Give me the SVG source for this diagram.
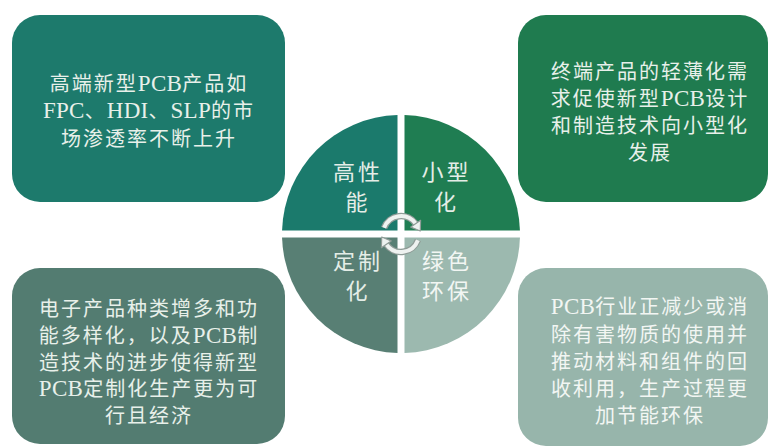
<svg xmlns="http://www.w3.org/2000/svg" width="771" height="448" viewBox="0 0 771 448">
<style>
.bt{font-family:"Liberation Serif","Noto Sans CJK SC",serif;font-size:20px;letter-spacing:2px;text-anchor:middle;fill:#e8f0ea}
.l{font-size:23px;letter-spacing:0.3px}
.qt{font-family:"Liberation Serif","Noto Sans CJK SC",serif;font-size:22px;letter-spacing:3px;text-anchor:middle;fill:#e4ede7}
.arc-o{fill:none;stroke:#8f9c97;stroke-width:6.5}
.arc-i{fill:none;stroke:#eef2f0;stroke-width:4}
.ah{fill:#eef2f0;stroke:#8f9c97;stroke-width:1.2;stroke-linejoin:round}
</style>
<rect width="771" height="448" fill="#ffffff"/>

<g id="box-tl">
<rect x="12" y="15" width="273" height="187" rx="28" fill="#1d7a6c"/>
<text class="bt"><tspan x="149" y="90.5">高端新型<tspan class="l">PCB</tspan>产品如</tspan><tspan x="149" y="118"><tspan class="l">FPC</tspan>、<tspan class="l">HDI</tspan>、<tspan class="l">SLP</tspan>的市</tspan><tspan x="149" y="145.5">场渗透率不断上升</tspan></text>
</g>

<g id="box-tr">
<rect x="518" y="15" width="250" height="187" rx="28" fill="#1f7b4f"/>
<text class="bt"><tspan x="650" y="79">终端产品的轻薄化需</tspan><tspan x="650" y="106">求促使新型<tspan class="l">PCB</tspan>设计</tspan><tspan x="650" y="133">和制造技术向小型化</tspan><tspan x="650" y="160">发展</tspan></text>
</g>

<g id="box-bl">
<rect x="12" y="268" width="273" height="176" rx="28" fill="#537c71"/>
<text class="bt"><tspan x="149" y="315.5">电子产品种类增多和功</tspan><tspan x="149" y="342.5">能多样化，以及<tspan class="l">PCB</tspan>制</tspan><tspan x="149" y="369.5">造技术的进步使得新型</tspan><tspan x="149" y="396"><tspan class="l">PCB</tspan>定制化生产更为可</tspan><tspan x="149" y="423">行且经济</tspan></text>
</g>

<g id="box-br">
<rect x="518" y="268" width="250" height="178" rx="28" fill="#97b5ab"/>
<text class="bt" style="fill:#f2f6f3"><tspan x="650" y="314"><tspan class="l">PCB</tspan>行业正减少或消</tspan><tspan x="650" y="342">除有害物质的使用并</tspan><tspan x="650" y="369">推动材料和组件的回</tspan><tspan x="650" y="396">收利用，生产过程更</tspan><tspan x="650" y="423">加节能环保</tspan></text>
</g>

<g id="q-tl">
<path d="M397.5,230.5 H282.05 A119,119 0 0 1 397.5,115.05 Z" fill="#1b7a6c"/>
<text class="qt"><tspan x="358" y="180">高性</tspan><tspan x="358" y="210">能</tspan></text>
</g>
<g id="q-tr">
<path d="M404.5,230.5 V115.05 A119,119 0 0 1 519.95,230.5 Z" fill="#1f7d52"/>
<text class="qt"><tspan x="446.5" y="180">小型</tspan><tspan x="446.5" y="210">化</tspan></text>
</g>
<g id="q-bl">
<path d="M397.5,237.5 V352.95 A119,119 0 0 1 282.05,237.5 Z" fill="#587f74"/>
<text class="qt"><tspan x="358" y="269">定制</tspan><tspan x="358" y="299">化</tspan></text>
</g>
<g id="q-br">
<path d="M404.5,237.5 H519.95 A119,119 0 0 1 404.5,352.95 Z" fill="#9cb9af"/>
<text class="qt" style="fill:#f2f6f3"><tspan x="447" y="269">绿色</tspan><tspan x="447" y="299">环保</tspan></text>
</g>

<g id="connectors">
<g id="cycle-top">
<path class="arc-o" d="M384.1,227.8 A18,18 0 0 1 415.7,223.7"/>
<path class="arc-i" d="M384.1,227.8 A18,18 0 0 1 415.7,223.7"/>
<polygon class="ah" points="420.6,220.3 410.8,227.1 420.3,231"/>
</g>
<g id="cycle-bottom" transform="rotate(180 401 234)">
<path class="arc-o" d="M384.1,227.8 A18,18 0 0 1 415.7,223.7"/>
<path class="arc-i" d="M384.1,227.8 A18,18 0 0 1 415.7,223.7"/>
<polygon class="ah" points="420.6,220.3 410.8,227.1 420.3,231"/>
</g>
</g>
</svg>
